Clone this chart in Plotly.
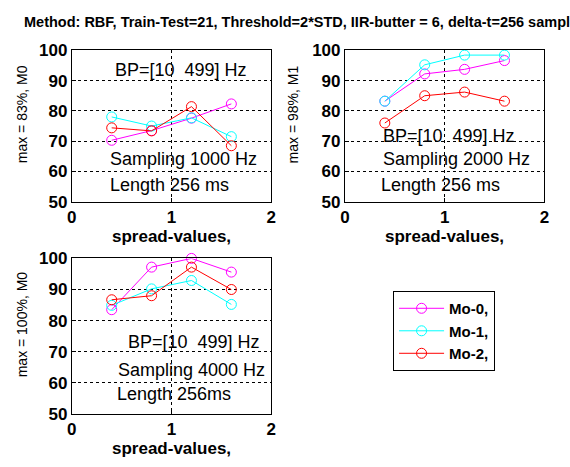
import plotly.graph_objects as go

W, H = 570, 467

spread = [0.4, 0.8, 1.2, 1.6]
series_names = ["Mo-0,", "Mo-1,", "Mo-2,"]
colors = ["#FF00FF", "#00FFFF", "#FF0000"]

# panel 1: Sampling 1000 Hz
p1_mo0 = [70.3, 73.5, 77.6, 82.3]
p1_mo1 = [78.0, 75.0, 77.7, 71.5]
p1_mo2 = [74.4, 73.4, 81.4, 68.5]
# panel 2: Sampling 2000 Hz
p2_mo0 = [83.2, 92.2, 93.7, 96.6]
p2_mo1 = [83.2, 95.2, 98.4, 98.4]
p2_mo2 = [76.0, 85.0, 86.2, 83.2]
# panel 3: Sampling 4000 Hz
p3_mo0 = [83.5, 97.2, 100.0, 95.6]
p3_mo1 = [84.9, 90.2, 92.9, 85.2]
p3_mo2 = [86.7, 88.0, 97.2, 90.0]

ylabels = ["max = 83%, M0", "max = 98%, M1", "max = 100%, M0"]
xlabel = "spread-values,"
title_text = "Method: RBF, Train-Test=21, Threshold=2*STD, IIR-butter = 6, delta-t=256 samples"

panel_texts = [
    [("BP=[10  499] Hz", 0.41, 93.4), ("Sampling 1000 Hz", 0.36, 64.0), ("Length 256 ms", 0.36, 55.4)],
    [("BP=[10  499] Hz", 0.36, 71.6), ("Sampling 2000 Hz", 0.36, 64.2), ("Length 256 ms", 0.345, 55.7)],
    [("BP=[10  499] Hz", 0.54, 73.1), ("Sampling 4000 Hz", 0.44, 64.2), ("Length 256ms", 0.43, 56.3)],
]

panels = [[p1_mo0, p1_mo1, p1_mo2], [p2_mo0, p2_mo1, p2_mo2], [p3_mo0, p3_mo1, p3_mo2]]

FONT = "Liberation Sans, Arial, sans-serif"

# pixel boxes (left, top, right, bottom)
boxes = [(68, 43, 271, 201), (346, 43, 549, 201), (68, 260, 271, 422)]
ylabel_x = [17, 293, 17]

fig = go.Figure()
layout = dict(
    width=W, height=H, margin=dict(l=0, r=0, t=0, b=0),
    paper_bgcolor="white", plot_bgcolor="white",
    showlegend=True,
    font=dict(family=FONT, color="black"),
    annotations=[],
)

for i, (data, box) in enumerate(zip(panels, boxes)):
    xa = "x" if i == 0 else f"x{i+1}"
    ya = "y" if i == 0 else f"y{i+1}"
    for j, vals in enumerate(data):
        fig.add_trace(go.Scatter(
            x=spread, y=vals, mode="lines+markers", name=series_names[j],
            line=dict(color=colors[j], width=1),
            marker=dict(symbol="circle-open", size=10, color=colors[j], line=dict(width=1)),
            xaxis=xa, yaxis=ya, cliponaxis=False, showlegend=(i == 2),
        ))
    l, t, r, b = box
    axcommon = dict(
        showline=True, mirror=True, linecolor="black", linewidth=1,
        ticks="inside", ticklen=4, tickcolor="black",
        showgrid=True, gridcolor="black", gridwidth=1, griddash="3px,3px",
        zeroline=False,
        tickfont=dict(family=FONT, size=17, color="black", weight="bold"),
    )
    layout["xaxis" if i == 0 else f"xaxis{i+1}"] = dict(
        axcommon, domain=[l / W, r / W], range=[0, 2], tickvals=[0, 1, 2], anchor=ya,
    )
    layout["yaxis" if i == 0 else f"yaxis{i+1}"] = dict(
        axcommon, domain=[1 - b / H, 1 - t / H], range=[50, 100],
        tickvals=[50, 60, 70, 80, 90, 100], anchor=xa,
    )
    # x-axis title
    layout["annotations"].append(dict(
        text=xlabel, x=(l + r) / 2 / W, y=1 - (b + 36) / H, xref="paper", yref="paper",
        xanchor="center", yanchor="middle", showarrow=False,
        font=dict(family=FONT, size=17, color="black", weight="bold"),
    ))
    # y-axis title (sits slightly above the axis centre, as in the original)
    layout["annotations"].append(dict(
        text=ylabels[i], x=ylabel_x[i] / W, y=1 - ((t + b) / 2 - 12) / H,
        xref="paper", yref="paper", xanchor="center", yanchor="middle",
        textangle=-90, showarrow=False,
        font=dict(family=FONT, size=14, color="black"),
    ))
    for txt, tx, ty in panel_texts[i]:
        layout["annotations"].append(dict(
            text=txt, x=tx, y=ty, xref=xa, yref=ya, xanchor="left", yanchor="middle",
            showarrow=False, font=dict(family=FONT, size=18, color="black"),
        ))

layout["annotations"].append(dict(
    text=title_text, x=17 / W, y=1 - 14 / H, xref="paper", yref="paper",
    xanchor="left", yanchor="middle", showarrow=False,
    font=dict(family=FONT, size=14.5, color="black", weight="bold"),
))

layout["legend"] = dict(
    x=395 / W, y=1 - 294 / H, xanchor="left", yanchor="top",
    bgcolor="white", bordercolor="black", borderwidth=1,
    font=dict(family=FONT, size=15, color="black", weight="bold"),
    tracegroupgap=0, itemwidth=45,
)

fig.update_layout(**layout)
fig.write_html("out.html")
